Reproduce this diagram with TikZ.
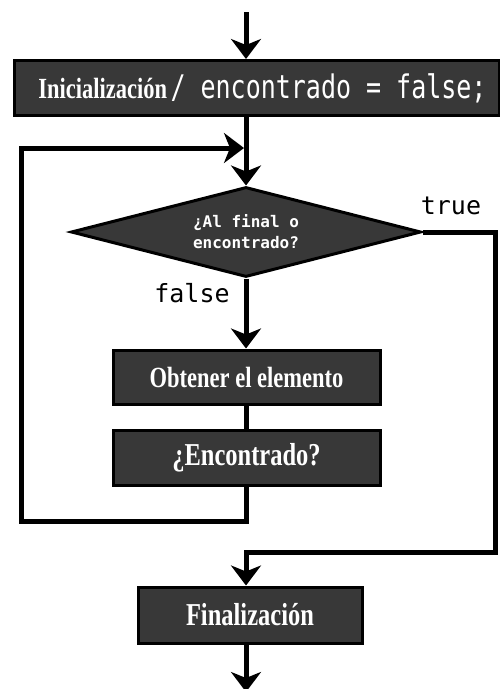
\documentclass[tikz,border=0pt]{standalone}
\usepackage{fontspec}
\usepackage{graphicx}
\setmonofont{DejaVu Sans Mono}
\newfontfamily\boxserif{Liberation Serif}
\usetikzlibrary{arrows.meta,shapes.geometric}
\tikzset{
  boxnode/.style={draw=black, line width=3pt, fill=black!78, text=white, inner sep=0pt, anchor=center},
  conn/.style={line width=5pt, draw=black},
  arr/.style={conn, -{Stealth[length=20pt,width=30pt,inset=6pt]}},
  lbl/.style={font=\fontsize{25}{28}\ttfamily, text=black, inner sep=0pt},
  boxfont/.style={font=\fontsize{24.5}{28}\boxserif\bfseries}
}
\newcommand{\tallt}[1]{\scalebox{1}[1.3]{#1}}
\begin{document}
\begin{tikzpicture}[x=1pt,y=-1pt]
\useasboundingbox (0,0) rectangle (499,689);
\fill[white] (0,0) rectangle (499,689);
% nodes
\node[boxnode, minimum width=485pt, minimum height=55pt] (init) at (256.5,88)
  {\hspace*{12pt}\tallt{{\fontsize{22.5}{26}\boxserif\bfseries Inicialización} {\fontsize{25}{26}\ttfamily/ encontrado = false;}}};
\node[draw=black, line width=3pt, fill=black!78, text=white, shape=diamond, aspect=3.9,
      minimum width=350pt, minimum height=90pt, inner sep=0pt, align=center,
      font=\fontsize{16}{21}\ttfamily\bfseries] (dia) at (246,232)
  {¿Al final o\\encontrado?};
\node[boxnode, font=\fontsize{22.5}{28}\boxserif\bfseries, minimum width=267pt, minimum height=54pt] (obt) at (246.5,377)
  {\tallt{Obtener el elemento}};
\node[boxnode, boxfont, minimum width=267pt, minimum height=55pt] (enc) at (246.5,458)
  {\tallt{¿Encontrado?}};
\node[boxnode, boxfont, minimum width=224pt, minimum height=56pt] (fin) at (250,615)
  {\tallt{Finalización}};
\node[lbl] (ltrue) at (451,206) {true};
\node[lbl] (lfalse) at (192,293) {false};
% coordinates
\coordinate (start) at (246,12);
\coordinate (finish) at (246,692);
\coordinate (loopin) at (244,148);
\coordinate (lbl) at (21,521);
\coordinate (ltl) at (21,148);
\coordinate (rbr) at (495,552);
\coordinate (join) at (246,552);
% connectors
\draw[arr] (start) -- (start |- init.north);
\draw[arr] (init.south -| dia.north) -- (dia.north);
\draw[arr] (dia.south) -- (obt.north -| dia.south);
\draw[conn] (obt.south -| dia.south) -- (enc.north -| dia.south);
\draw[arr] (enc.south -| dia.south) |- (lbl) -- (ltl) -- (loopin);
\draw[arr] (dia.east) -| (rbr) -- (join) -- (join |- fin.north);
\draw[arr] (join |- fin.south) -- (finish);
\end{tikzpicture}
\end{document}
